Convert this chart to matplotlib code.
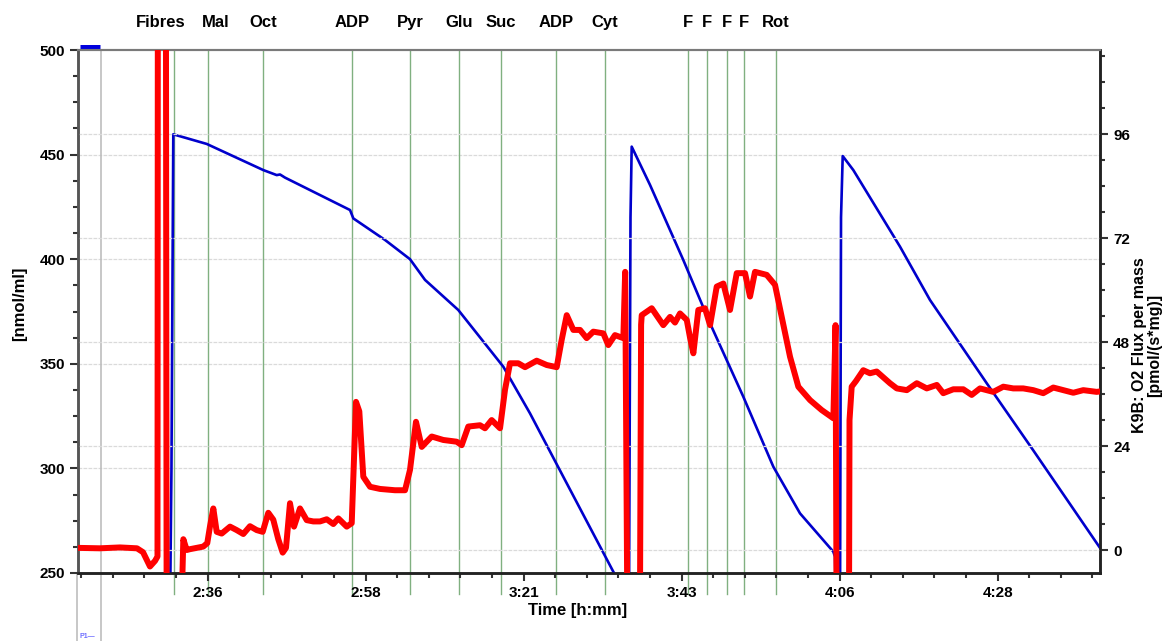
import matplotlib
matplotlib.use('Agg')
import matplotlib.pyplot as plt
from matplotlib.ticker import FixedLocator, MultipleLocator, FuncFormatter
import numpy as np

plt.rcParams['font.family'] = ['Liberation Sans', 'DejaVu Sans']
plt.rcParams['font.weight'] = 'bold'

# ---------------- data (time in minutes) ----------------
event_labels = ['Fibres', 'Mal', 'Oct', 'ADP', 'Pyr', 'Glu', 'Suc', 'ADP', 'Cyt',
                'F', 'F', 'F', 'F', 'Rot']
event_times = [151.2, 156.04, 163.9, 176.5, 184.8, 191.8, 197.7, 205.6, 212.6,
               224.4, 227.1, 229.9, 232.4, 236.9]
label_times = [149.35, 157.18, 163.9, 176.5, 184.8, 191.8, 197.7, 205.6, 212.6,
               224.4, 227.1, 229.9, 232.4, 236.9]

time_ticks = [156, 178.5, 201, 223.5, 246, 268.5]
left_ticks = [250, 300, 350, 400, 450, 500]
right_ticks = [0, 24, 48, 72, 96]

o2_time = [150.63, 150.84, 151.10, 155.86, 163.92, 165.83, 166.30, 167.01, 176.27,
           176.74, 181.25, 184.81, 186.95, 191.69, 198.10, 201.90, 206.64, 213.86,
           214.72, 216.00, 216.21, 216.38, 218.99, 223.73, 227.53, 232.27, 236.55,
           240.35, 245.09, 245.33, 245.47, 246.05, 246.19, 246.43, 247.94, 254.59,
           258.86, 266.94, 273.53, 283.07]
o2_conc = [230, 300, 459.7, 455.1, 442.6, 440.2, 440.5, 439.0, 423.5,
           419.5, 409.2, 400.0, 390.1, 375.7, 348.6, 326.3, 296.0, 250.0,
           244.0, 238.0, 420.0, 453.8, 435.5, 399.6, 369.4, 334.3, 300.8,
           278.5, 260.2, 257.8, 235.0, 235.0, 420.0, 449.3, 442.6, 406.0,
           380.5, 340.7, 308.8, 262.0]

flux_time = [137.53, 140.66, 143.51, 145.93, 146.79, 147.78, 148.5, 148.85, 148.9, 150.05,
             150.15, 152.3, 152.53, 153.01, 153.48, 155.37, 155.94, 156.33, 156.80, 157.28,
             157.99, 159.18, 160.13, 161.07, 162.02, 162.98, 163.83, 164.63, 165.34, 166.05,
             166.68, 167.15, 167.72, 168.29, 169.14, 170.10, 171.04, 171.99, 172.95, 173.89,
             174.60, 175.80, 176.51, 177.12, 177.59, 178.16, 179.12, 180.54, 182.67, 184.10,
             184.81, 185.66, 186.48, 187.90, 189.55, 191.46, 192.17, 193.11, 194.78, 195.49,
             196.44, 197.63, 198.34, 199.05, 200.23, 201.19, 202.85, 204.28, 205.70, 206.41,
             207.13, 208.07, 209.02, 209.97, 210.91, 212.34, 213.05, 214.00, 215.19, 215.45,
             215.75, 217.56, 217.72, 217.81, 219.23, 220.88, 221.84, 222.55, 223.26, 224.22,
             224.69, 225.16, 225.87, 226.82, 227.54, 228.49, 229.43, 230.38, 231.34, 232.52,
             233.23, 233.94, 235.61, 236.79, 237.74, 238.93, 240.11, 241.78, 243.44, 245.10,
             245.41, 245.55, 247.33, 247.40, 247.71, 248.32, 249.36, 250.31, 251.27, 253.16,
             254.13, 255.56, 256.98, 258.40, 259.83, 260.75, 262.18, 263.60, 264.80, 265.98,
             267.87, 269.30, 270.72, 272.14, 273.57, 274.99, 276.42, 277.84, 279.27, 280.69,
             282.60, 283.07]
flux_val = [0.5, 0.4, 0.6, 0.4, -0.5, -3.8, -2.5, -1.5, 130, 130,
            -12, -12, 2.5, 0.0, 0.2, 0.8, 1.6, 5.5, 9.6, 4.2,
            3.8, 5.4, 4.6, 3.7, 5.5, 4.6, 4.2, 8.6, 7.0, 2.5,
            -0.6, 0.5, 10.8, 5.4, 9.6, 6.9, 6.6, 6.6, 7.1, 6.0,
            7.3, 5.4, 6.2, 34.2, 32.0, 16.9, 14.6, 14.1, 13.8, 13.8,
            18.5, 29.6, 23.8, 26.2, 25.4, 25.0, 24.2, 28.5, 28.8, 28.1,
            30.0, 28.1, 37.0, 43.1, 43.1, 42.2, 43.7, 42.7, 42.2, 48.5,
            54.2, 50.8, 50.8, 48.9, 50.4, 50.0, 47.3, 49.6, 48.9, 64.2,
            -12, -12, 52.0, 54.2, 55.8, 51.9, 53.8, 52.5, 54.6, 53.1,
            49.0, 45.4, 55.4, 55.8, 51.9, 60.8, 61.5, 55.4, 63.9, 63.9,
            58.5, 64.2, 63.5, 61.2, 53.8, 44.6, 37.7, 34.6, 32.3, 30.4,
            51.9, -12, -12, 30.0, 37.7, 39.0, 41.5, 40.8, 41.2, 38.5,
            37.3, 36.9, 38.5, 37.3, 38.1, 36.2, 37.1, 37.1, 35.8, 37.3,
            36.5, 37.7, 37.3, 37.3, 36.9, 36.2, 37.5, 36.9, 36.3, 36.9,
            36.5, 36.6]

# ---------------- figure ----------------
W, H = 1162, 641
fig = plt.figure(figsize=(W / 100, H / 100), dpi=100)
fig.patch.set_facecolor('white')
ax = fig.add_axes([78 / W, 1 - 573 / H, (1100 - 78) / W, (573 - 50) / H])
ax2 = ax.twinx()

ax.set_xlim(137.53, 283.07)
ax.set_ylim(250, 500)
ax2.set_ylim(-5.3, 115.4)

grid_kw = dict(color='#dadada', lw=0.9, ls=(0, (3, 1)), zorder=0)
for v in left_ticks[1:-1]:
    ax.axhline(v, **grid_kw)
for v in right_ticks:
    ax2.axhline(v, **grid_kw)

# event lines
for t in event_times:
    ax.axvline(t, ymin=-0.04, ymax=1, color='#80b080', lw=1.0, clip_on=False, zorder=1)
for t, lab in zip(label_times, event_labels):
    ax.text(t, 1.0535, lab, transform=ax.get_xaxis_transform(), ha='center', va='center',
            fontsize=12, fontweight='bold')

# marks
ax.axvline(140.8, ymin=-0.13, ymax=1, color='#bdbdbd', lw=1.2, clip_on=False, zorder=1)
ax.axvline(137.45, ymin=-0.13, ymax=0, color='#bdbdbd', lw=1.2, clip_on=False, zorder=1)
ax.plot([137.75, 140.6], [501.4, 501.4], color='#0000dd', lw=3.6, clip_on=False,
        solid_capstyle='butt', zorder=5)
fig.text(80 / W, 1 - 636 / H, 'P1\u2014', color='#6f6fff', fontsize=5, va='center')

# data
ax.plot(o2_time, o2_conc, color='#0000cc', lw=1.9, zorder=3)
ax2.plot(flux_time, flux_val, color='#ff0000', lw=4.3, zorder=3,
         solid_joinstyle='round')

# ticks
fmt = FuncFormatter(lambda m, p: f"{int(m // 60)}:{int(m % 60):02d}")
ax.xaxis.set_major_locator(FixedLocator(time_ticks))
ax.xaxis.set_minor_locator(FixedLocator(np.arange(time_ticks[0] - 4 * 4.5, 284, 4.5)))
ax.xaxis.set_major_formatter(fmt)
ax.yaxis.set_major_locator(FixedLocator(left_ticks))
ax.yaxis.set_minor_locator(MultipleLocator(12.5))
ax2.yaxis.set_major_locator(FixedLocator(right_ticks))
ax2.yaxis.set_minor_locator(MultipleLocator(6))

ax.tick_params(axis='both', which='major', direction='out', length=6, width=1.5,
               labelsize=11, colors='#333333', labelcolor='black')
ax.tick_params(axis='both', which='minor', direction='out', length=3.5, width=1.5,
               colors='#333333')
ax2.tick_params(axis='y', which='major', direction='out', length=6, width=1.5,
                labelsize=11, colors='#333333', labelcolor='black')
ax2.tick_params(axis='y', which='minor', direction='out', length=3.5, width=1.5,
                colors='#333333')
for lab in ax.get_xticklabels() + ax.get_yticklabels() + ax2.get_yticklabels():
    lab.set_fontweight('bold')

for a in (ax, ax2):
    a.spines['top'].set_color('#7a7a7a')
    a.spines['top'].set_linewidth(1.5)
    a.spines['bottom'].set_color('#222222')
    a.spines['bottom'].set_linewidth(1.8)
    a.spines['left'].set_color('#555555')
    a.spines['left'].set_linewidth(1.8)
    a.spines['right'].set_color('#222222')
    a.spines['right'].set_linewidth(1.8)

fig.text(20 / W, 1 - 304 / H, '[nmol/ml]', rotation=90, ha='center', va='center',
         fontsize=12, fontweight='bold')
fig.text(1147 / W, 1 - 345 / H, 'K9B: O2 Flux per mass\n[pmol/(s*mg)]', rotation=90,
         ha='center', va='center', multialignment='center', fontsize=11.5,
         fontweight='bold', linespacing=1.05)
fig.text(578 / W, 1 - 611 / H, 'Time [h:mm]', ha='center', va='center', fontsize=12,
         fontweight='bold')

fig.savefig('out.png', dpi=100)
